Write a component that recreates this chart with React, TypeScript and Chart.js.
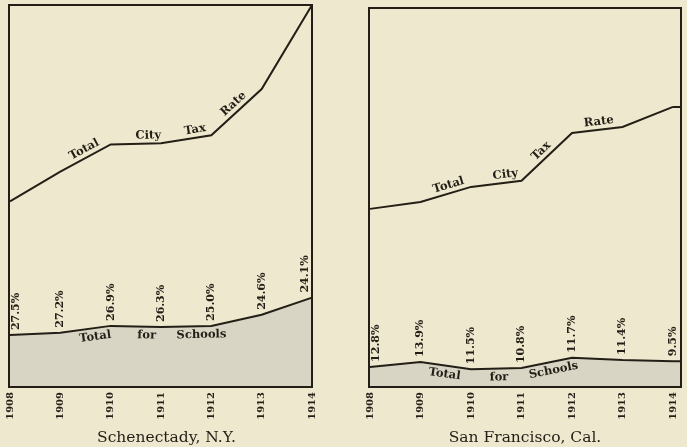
import { useEffect, useRef } from "react";
import { Chart, registerables } from "chart.js";
Chart.register(...registerables);

const INK = "#231e16";
const PAPER = "#ede8ce";
const SHADE = "#d8d5c4";
const SERIF = "'DejaVu Serif', 'Liberation Serif', serif";

// Category (x) labels
const years = ["1908", "1909", "1910", "1911", "1912", "1913", "1914"];

// Schenectady, N.Y. (relative scale, 0–100 = full panel height)
const schenectadyTax = [48.6, 56.4, 63.5, 63.8, 65.9, 78.0, 100];
const schenectadySchools = [13.6, 14.2, 16.0, 15.7, 16.0, 18.9, 23.4];
const schenectadyPct = ["27.5%", "27.2%", "26.9%", "26.3%", "25.0%", "24.6%", "24.1%"];

// San Francisco, Cal.
const sanFranciscoTax = [47.0, 48.8, 52.8, 54.4, 67.0, 68.6, 73.9];
const sanFranciscoSchools = [5.3, 6.6, 4.7, 5.0, 7.7, 7.1, 6.8];
const sanFranciscoPct = ["12.8%", "13.9%", "11.5%", "10.8%", "11.7%", "11.4%", "9.5%"];

const taxWords = ["Total", "City", "Tax", "Rate"];
const schoolWords = ["Total", "for", "Schools"];

type Panel = {
  title: string;
  tax: number[];
  schools: number[];
  pct: string[];
  taxAt: number[];
  schoolAt: number[];
  padding: { left: number; right: number; top: number; bottom: number };
  extendRight: number;
  titleShift: number;
};

const panels: Panel[] = [
  {
    title: "Schenectady, N.Y.",
    tax: schenectadyTax,
    schools: schenectadySchools,
    pct: schenectadyPct,
    taxAt: [1.55, 2.75, 3.7, 4.55],
    schoolAt: [1.67, 2.72, 3.8],
    padding: { left: 10, right: 31, top: 5, bottom: 0 },
    extendRight: 0,
    titleShift: 6,
  },
  {
    title: "San Francisco, Cal.",
    tax: sanFranciscoTax,
    schools: sanFranciscoSchools,
    pct: sanFranciscoPct,
    taxAt: [1.6, 2.7, 3.5, 4.55],
    schoolAt: [1.5, 2.55, 3.6],
    padding: { left: 27, right: 30, top: 8, bottom: 0 },
    extendRight: 8,
    titleShift: 0,
  },
];

function buildChart(canvas: HTMLCanvasElement, panel: Panel) {
  const decor = {
    id: "decor",
    afterDatasetsDraw(chart: any) {
      const { ctx, chartArea: a } = chart;
      const boxL = a.left - 1;
      const boxR = a.right + panel.extendRight;
      const boxT = a.top;
      const boxB = a.bottom;
      const taxPts = chart.getDatasetMeta(0).data;
      const schPts = chart.getDatasetMeta(1).data;
      ctx.save();

      if (panel.extendRight > 0) {
        const lt = taxPts[taxPts.length - 1];
        const ls = schPts[schPts.length - 1];
        ctx.fillStyle = SHADE;
        ctx.fillRect(ls.x - 0.5, ls.y + 1, boxR - ls.x + 0.5, boxB - ls.y - 1);
        ctx.strokeStyle = INK;
        ctx.lineWidth = 2;
        ctx.beginPath();
        ctx.moveTo(lt.x, lt.y);
        ctx.lineTo(boxR, lt.y);
        ctx.moveTo(ls.x, ls.y);
        ctx.lineTo(boxR, ls.y);
        ctx.stroke();
      }

      const along = (pts: any[], words: string[], at: number[], above: boolean) => {
        ctx.fillStyle = INK;
        ctx.font = `bold 11.5px ${SERIF}`;
        ctx.textAlign = "center";
        words.forEach((w, k) => {
          const f = at[k];
          const i = Math.min(Math.floor(f), pts.length - 2);
          const t = f - i;
          const p0 = pts[i];
          const p1 = pts[i + 1];
          const x = p0.x + t * (p1.x - p0.x);
          const y = p0.y + t * (p1.y - p0.y);
          const ang = Math.atan2(p1.y - p0.y, p1.x - p0.x);
          ctx.save();
          ctx.translate(x, y);
          ctx.rotate(ang);
          if (above) {
            ctx.textBaseline = "alphabetic";
            ctx.fillText(w, 0, -5);
          } else {
            ctx.textBaseline = "top";
            ctx.fillText(w, 0, 3);
          }
          ctx.restore();
        });
      };
      along(taxPts, taxWords, panel.taxAt, true);
      along(schPts, schoolWords, panel.schoolAt, false);

      // percentage labels, vertical above the schools line
      ctx.font = `bold 11px ${SERIF}`;
      ctx.fillStyle = INK;
      ctx.textAlign = "left";
      ctx.textBaseline = "middle";
      schPts.forEach((p: any, i: number) => {
        const x = Math.min(Math.max(p.x, boxL + 7), boxR - 7);
        ctx.save();
        ctx.translate(x, p.y - 5);
        ctx.rotate(-Math.PI / 2);
        ctx.fillText(panel.pct[i], 0, 0);
        ctx.restore();
      });

      // frame
      ctx.strokeStyle = INK;
      ctx.lineWidth = 2;
      ctx.strokeRect(boxL, boxT, boxR - boxL, boxB - boxT);

      // caption
      ctx.font = `15.5px ${SERIF}`;
      ctx.textAlign = "center";
      ctx.textBaseline = "alphabetic";
      ctx.fillText(panel.title, (boxL + boxR) / 2 + panel.titleShift, boxB + 55);
      ctx.restore();
    },
  };

  return new Chart(canvas, {
    type: "line",
    data: {
      labels: years,
      datasets: [
        {
          label: "Total City Tax Rate",
          data: panel.tax,
          borderColor: INK,
          borderWidth: 2,
          pointRadius: 0,
          fill: false,
          tension: 0,
        },
        {
          label: "Total for Schools",
          data: panel.schools,
          borderColor: INK,
          borderWidth: 2,
          backgroundColor: SHADE,
          pointRadius: 0,
          fill: "origin",
          tension: 0,
        },
      ],
    },
    options: {
      responsive: false,
      animation: false,
      devicePixelRatio: 1,
      layout: { padding: panel.padding },
      plugins: {
        legend: { display: false },
        title: { display: false },
        tooltip: { enabled: false },
      },
      scales: {
        x: {
          type: "category",
          offset: false,
          grid: { display: false, drawTicks: false },
          border: { display: false },
          ticks: {
            autoSkip: false,
            minRotation: 90,
            maxRotation: 90,
            padding: 5,
            color: INK,
            font: { family: SERIF, size: 10, weight: "bold" },
          },
          afterFit(scale: any) {
            scale.height = 60;
          },
        },
        y: {
          display: false,
          min: 0,
          max: 100,
        },
      },
    },
    plugins: [decor],
  } as any);
}

function PanelChart({ panel, left, width }: { panel: Panel; left: number; width: number }) {
  const ref = useRef<HTMLCanvasElement>(null);
  useEffect(() => {
    if (!ref.current) return;
    const chart = buildChart(ref.current, panel);
    return () => chart.destroy();
  }, [panel]);
  return (
    <canvas
      ref={ref}
      width={width}
      height={447}
      style={{ position: "absolute", left, top: 0, width, height: 447 }}
    />
  );
}

export default function App() {
  return (
    <div
      style={{
        position: "fixed",
        left: 0,
        top: 0,
        width: 687,
        height: 447,
        background: PAPER,
        overflow: "hidden",
      }}
    >
      <PanelChart panel={panels[0]} left={0} width={343} />
      <PanelChart panel={panels[1]} left={343} width={360} />
    </div>
  );
}
